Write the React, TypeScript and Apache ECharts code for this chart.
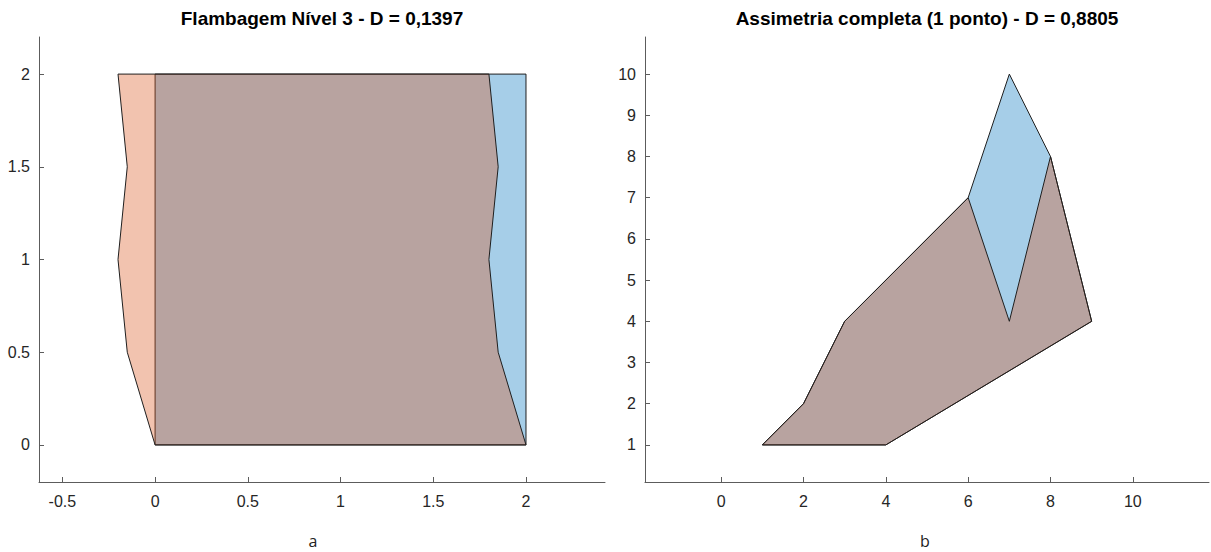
import React, { useEffect, useRef } from "react";
import * as echarts from "echarts";

// Panel a: reference rectangle (blue) and buckled shape (orange)
const leftRefX = [0, 2, 2, 0];
const leftRefY = [0, 0, 2, 2];
const leftBuckX = [0, -0.15, -0.2, -0.15, -0.2, 1.8, 1.85, 1.8, 1.85, 2];
const leftBuckY = [0, 0.5, 1, 1.5, 2, 2, 1.5, 1, 0.5, 0];
const leftXTicks = [-0.5, 0, 0.5, 1, 1.5, 2];
const leftYTicks = [0, 0.5, 1, 1.5, 2];

// Panel b: reference shape (blue) and asymmetric shape (orange)
const rightRefX = [1, 2, 3, 6, 7, 8, 9, 4];
const rightRefY = [1, 2, 4, 7, 10, 8, 4, 1];
const rightAsymX = [1, 2, 3, 6, 7, 8, 9, 4];
const rightAsymY = [1, 2, 4, 7, 4, 8, 4, 1];
const rightXTicks = [0, 2, 4, 6, 8, 10];
const rightYTicks = [1, 2, 3, 4, 5, 6, 7, 8, 9, 10];

const titleA = "Flambagem Nível 3 - D = 0,1397";
const titleB = "Assimetria completa (1 ponto) - D = 0,8805";

const FONT = "'Liberation Sans', Arial, Helvetica, sans-serif";
const BLUE = "rgba(0,114,189,0.35)";
const ORANGE = "rgba(217,83,25,0.35)";
const AXIS = "#5c5c5c";
const LABEL = "#262626";

function axis(ticks: number[], min: number, max: number, gridIndex: number, isX: boolean) {
  return {
    type: "value",
    gridIndex,
    min,
    max,
    axisLine: { show: true, onZero: false, lineStyle: { color: AXIS, width: 1 } },
    axisTick: { show: true, inside: true, length: 5, customValues: ticks, lineStyle: { color: AXIS, width: 1 } },
    axisLabel: {
      customValues: ticks,
      fontSize: 16,
      color: LABEL,
      fontFamily: FONT,
      margin: isX ? 11 : 9,
    },
    splitLine: { show: false },
  };
}

function poly(xs: number[], ys: number[], fill: string, idx: number) {
  return {
    type: "custom",
    xAxisIndex: idx,
    yAxisIndex: idx,
    silent: true,
    clip: true,
    data: [[0, 0]],
    renderItem: (_p: any, api: any) => ({
      type: "polygon",
      shape: { points: xs.map((x, i) => api.coord([x, ys[i]])) },
      style: { fill, stroke: "#1f1f1f", lineWidth: 1 },
    }),
  };
}

export default function App() {
  const ref = useRef<HTMLDivElement>(null);
  useEffect(() => {
    if (!ref.current) return;
    const chart = echarts.init(ref.current, undefined, { renderer: "svg" });
    chart.setOption({
      animation: false,
      backgroundColor: "#ffffff",
      grid: [
        { left: 39, top: 37, width: 566, height: 445 },
        { left: 645, top: 37, width: 564, height: 445 },
      ],
      xAxis: [axis(leftXTicks, -0.626, 2.426, 0, true), axis(rightXTicks, -1.85, 11.85, 1, true)],
      yAxis: [axis(leftYTicks, -0.2, 2.2, 0, false), axis(rightYTicks, 0.1, 10.9, 1, false)],
      series: [
        poly(leftRefX, leftRefY, BLUE, 0),
        poly(leftBuckX, leftBuckY, ORANGE, 0),
        poly(rightRefX, rightRefY, BLUE, 1),
        poly(rightAsymX, rightAsymY, ORANGE, 1),
      ],
      graphic: [
        {
          type: "text",
          x: 322,
          y: 18,
          style: { text: titleA, fontSize: 19, fontWeight: "bold", fontFamily: FONT, fill: "#000", textAlign: "center", textVerticalAlign: "middle" },
        },
        {
          type: "text",
          x: 927,
          y: 18,
          style: { text: titleB, fontSize: 19, fontWeight: "bold", fontFamily: FONT, fill: "#000", textAlign: "center", textVerticalAlign: "middle" },
        },
        {
          type: "text",
          x: 313,
          y: 541,
          style: { text: "a", fontSize: 16, fontFamily: "'Open Sans', 'Noto Sans', sans-serif", fill: "#222", textAlign: "center", textVerticalAlign: "middle" },
        },
        {
          type: "text",
          x: 925,
          y: 541,
          style: { text: "b", fontSize: 16, fontFamily: "'Open Sans', 'Noto Sans', sans-serif", fill: "#222", textAlign: "center", textVerticalAlign: "middle" },
        },
      ],
    });
    return () => chart.dispose();
  }, []);
  return <div ref={ref} style={{ position: "fixed", left: 0, top: 0, width: 1211, height: 552 }} />;
}
